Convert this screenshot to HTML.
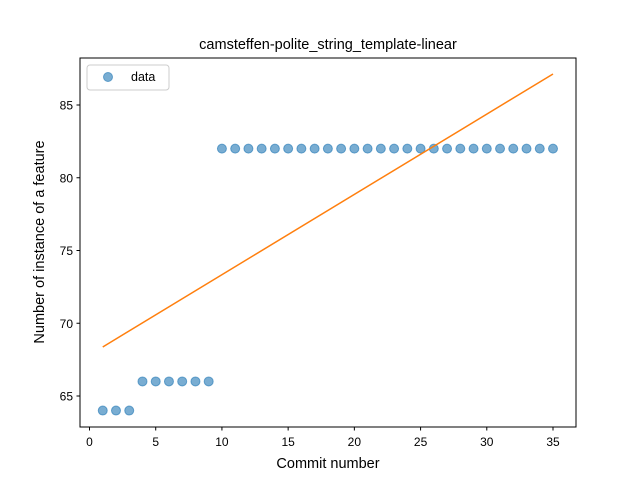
<!DOCTYPE html>
<html><head><meta charset="utf-8"><style>
body{margin:0;background:#fff;}
svg{display:block;font-family:"Liberation Sans","DejaVu Sans",sans-serif;}
</style></head><body>
<svg id="chart" width="640" height="480">
<rect width="640" height="480" fill="#fff"/>
<text x="328" y="49" text-anchor="middle" font-size="14.5">camsteffen-polite_string_template-linear</text>
<g id="plot"></g>
<rect x="80" y="58" width="496" height="369" fill="none" stroke="#000" stroke-width="1"/>
<text x="328" y="468" text-anchor="middle" font-size="14.5">Commit number</text>
<text transform="translate(44,242) rotate(-90)" text-anchor="middle" font-size="14.5">Number of instance of a feature</text>
<g>
<rect x="87" y="65" width="82" height="25" rx="3" fill="#fff" stroke="#ccc"/>
<circle cx="108" cy="77" r="4.5" fill="#1f77b4" fill-opacity="0.6" stroke="#1f77b4" stroke-opacity="0.6"/>
<text x="131" y="81" font-size="12.5">data</text>
</g>
</svg>
<script>
const xs=[1,2,3,4,5,6,7,8,9,10,11,12,13,14,15,16,17,18,19,20,21,22,23,24,25,26,27,28,29,30,31,32,33,34,35];
const ys=[64,64,64,66,66,66,66,66,66,82,82,82,82,82,82,82,82,82,82,82,82,82,82,82,82,82,82,82,82,82,82,82,82,82,82];
const fitX=[1,35];
const fitY=[68.37,87.13];
const xTicks=[0,5,10,15,20,25,30,35];
const yTicks=[65,70,75,80,85];
const NS="http://www.w3.org/2000/svg";
const sx=v=>89.5+v*13.243;
const sy=v=>396-(v-65)*14.55;
const g=document.getElementById('plot');
function mk(t,a){const e=document.createElementNS(NS,t);for(const k in a)e.setAttribute(k,a[k]);g.appendChild(e);return e;}
xTicks.forEach(t=>{
 const l=mk('line',{x1:sx(t),x2:sx(t),y1:427,y2:430.5,stroke:'#000'});
 
 
 const tx=mk('text',{x:sx(t),y:446,'text-anchor':'middle','font-size':'12'});tx.textContent=t;
 
 
});
yTicks.forEach(t=>{
 const l=mk('line',{x1:76.5,x2:80,y1:sy(t),y2:sy(t),stroke:'#000'});
 
 
 const tx=mk('text',{x:73,y:sy(t)+4.5,'text-anchor':'end','font-size':'12'});tx.textContent=t;
 
 
});
xs.forEach((x,i)=>{
 const c=mk('circle',{cx:sx(x),cy:sy(ys[i]),r:4.5,fill:'#1f77b4','fill-opacity':0.6,stroke:'#1f77b4','stroke-opacity':0.6});
 
 
});
const ln=mk('line',{x1:sx(fitX[0]),y1:sy(fitY[0]),x2:sx(fitX[1]),y2:sy(fitY[1]),stroke:'#ff7f0e','stroke-width':1.5});


</script>
</body></html>
